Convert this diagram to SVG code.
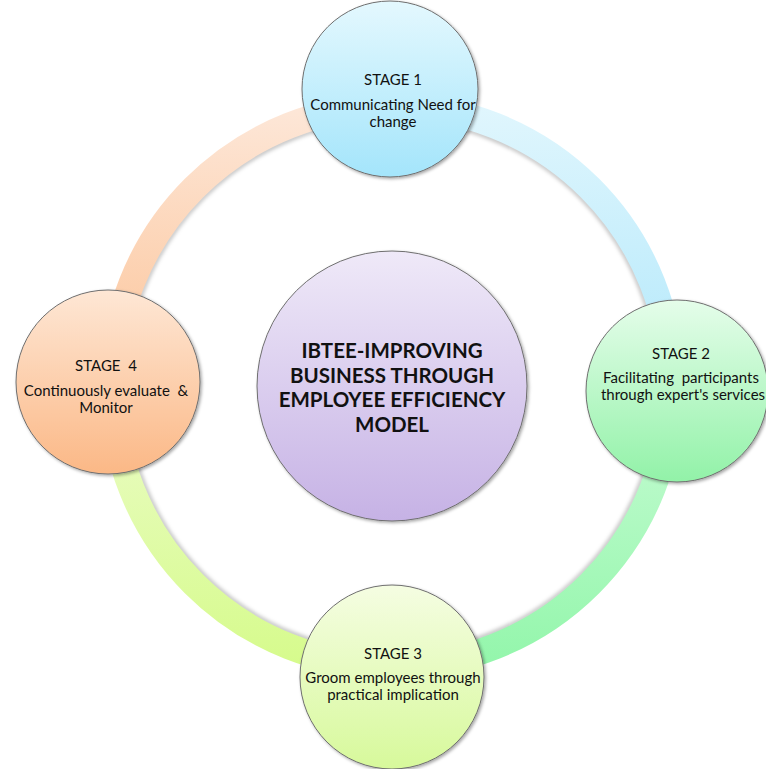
<svg xmlns="http://www.w3.org/2000/svg" width="766" height="769" viewBox="0 0 766 769">
  <defs>
    <linearGradient id="gArcOrange" x1="0" y1="0" x2="0" y2="1"><stop offset="0" stop-color="#fde7d8"/><stop offset="1" stop-color="#fcc397"/></linearGradient>
    <linearGradient id="gArcBlue" x1="0" y1="0" x2="0" y2="1"><stop offset="0" stop-color="#e0f6fd"/><stop offset="1" stop-color="#b2e8fb"/></linearGradient>
    <linearGradient id="gArcGreen" x1="0" y1="0" x2="0" y2="1"><stop offset="0" stop-color="#cafcd6"/><stop offset="1" stop-color="#93f6ab"/></linearGradient>
    <linearGradient id="gArcYellow" x1="0" y1="0" x2="0" y2="1"><stop offset="0" stop-color="#ecfcc9"/><stop offset="1" stop-color="#d6fb8c"/></linearGradient>
    <linearGradient id="gTop" x1="0" y1="0" x2="0" y2="1"><stop offset="0" stop-color="#e4f8fe"/><stop offset="1" stop-color="#a4e5fb"/></linearGradient>
    <linearGradient id="gRight" x1="0" y1="0" x2="0" y2="1"><stop offset="0" stop-color="#e5fdea"/><stop offset="1" stop-color="#92f2a8"/></linearGradient>
    <linearGradient id="gBottom" x1="0" y1="0" x2="0" y2="1"><stop offset="0" stop-color="#f5fde2"/><stop offset="1" stop-color="#d7f99b"/></linearGradient>
    <linearGradient id="gLeft" x1="0" y1="0" x2="0" y2="1"><stop offset="0" stop-color="#fee7d5"/><stop offset="1" stop-color="#fbb886"/></linearGradient>
    <linearGradient id="gCenter" x1="0" y1="0" x2="0" y2="1"><stop offset="0" stop-color="#efe9f8"/><stop offset="1" stop-color="#c6b2e5"/></linearGradient>
    <filter id="shadow" x="-20%" y="-20%" width="140%" height="140%">
      <feDropShadow dx="1.5" dy="1.5" stdDeviation="1.5" flood-color="#000" flood-opacity="0.35"/>
    </filter>
    <filter id="blur"><feGaussianBlur stdDeviation="2"/></filter>
  </defs>
  <style>
    .arc { fill: none; stroke-width: 26; }
    .node { stroke: #6f6f6f; stroke-width: 1; filter: url(#shadow); }
    .lbl { font-family: Lato, "Liberation Sans", sans-serif; font-size: 15px; fill: #111; text-anchor: middle; }
    .title { font-family: Lato, "Liberation Sans", sans-serif; font-size: 20.5px; font-weight: bold; fill: #111; text-anchor: middle; }
  </style>
  <rect width="766" height="769" fill="#fff"/>
  <g id="connectors">
    <circle cx="392" cy="386" r="267" fill="none" stroke="#000" stroke-opacity="0.35" stroke-width="3" filter="url(#blur)"/>
    <path class="arc" stroke="url(#gArcOrange)" d="M112 386 A280 280 0 0 1 392 106"/>
    <path class="arc" stroke="url(#gArcBlue)" d="M392 106 A280 280 0 0 1 672 386"/>
    <path class="arc" stroke="url(#gArcGreen)" d="M672 386 A280 280 0 0 1 392 666"/>
    <path class="arc" stroke="url(#gArcYellow)" d="M392 666 A280 280 0 0 1 112 386"/>
  </g>
  <g id="center">
    <circle class="node" cx="392" cy="386" r="135" fill="url(#gCenter)"/>
    <text class="title" x="392" y="358">IBTEE-IMPROVING</text>
    <text class="title" x="392" y="383">BUSINESS THROUGH</text>
    <text class="title" x="392" y="407">EMPLOYEE EFFICIENCY</text>
    <text class="title" x="392" y="432">MODEL</text>
  </g>
  <g id="stage1">
    <circle class="node" cx="390" cy="89" r="88" fill="url(#gTop)"/>
    <text class="lbl" x="393" y="85">STAGE 1</text>
    <text class="lbl" x="393" y="110">Communicating Need for</text>
    <text class="lbl" x="393" y="127">change</text>
  </g>
  <g id="stage2">
    <circle class="node" cx="677" cy="391" r="91" fill="url(#gRight)"/>
    <text class="lbl" x="681" y="359">STAGE 2</text>
    <text class="lbl" x="681" y="383" xml:space="preserve">Facilitating  participants</text>
    <text class="lbl" x="683" y="400">through expert's services</text>
  </g>
  <g id="stage3">
    <circle class="node" cx="392" cy="677" r="92" fill="url(#gBottom)"/>
    <text class="lbl" x="393" y="659">STAGE 3</text>
    <text class="lbl" x="393" y="683">Groom employees through</text>
    <text class="lbl" x="393" y="700">practical implication</text>
  </g>
  <g id="stage4">
    <circle class="node" cx="108" cy="382" r="92" fill="url(#gLeft)"/>
    <text class="lbl" x="106" y="371" xml:space="preserve">STAGE  4</text>
    <text class="lbl" x="106" y="396" xml:space="preserve">Continuously evaluate  &amp;</text>
    <text class="lbl" x="106" y="413">Monitor</text>
  </g>
</svg>
